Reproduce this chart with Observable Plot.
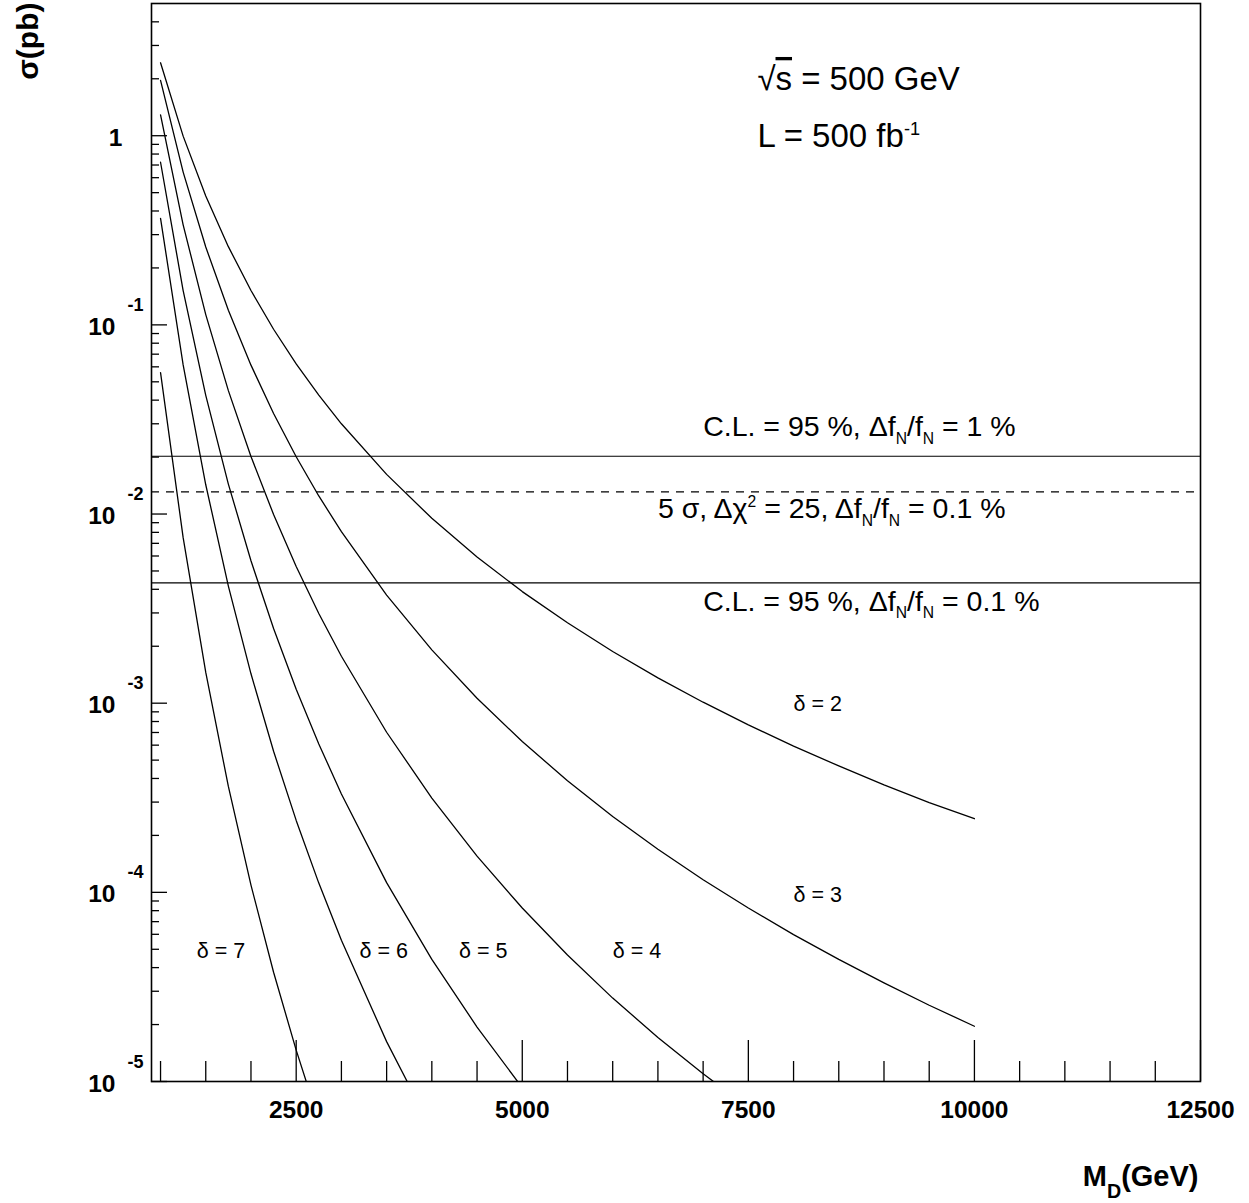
<!DOCTYPE html>
<html>
<head>
<meta charset="utf-8">
<script src="https://cdn.jsdelivr.net/npm/d3@7"></script>
<script src="https://cdn.jsdelivr.net/npm/@observablehq/plot@0.6"></script>
<style>
  html, body { margin: 0; padding: 0; background: #fff; }
  #chart svg { display: block; }
</style>
</head>
<body>
<div id="chart"></div>
<script>
// Graviton-emission cross section vs. fundamental scale M_D, one curve per number of extra dimensions δ.
const massGeV = [1000, 1250, 1500, 1750, 2000, 2250, 2500, 2750, 3000, 3500, 4000, 4500,
                 5000, 5500, 6000, 6500, 7000, 7500, 8000, 8500, 9000, 9500, 10000];

const deltas = [2, 3, 4, 5, 6, 7];

// σ (pb) for each δ, listed along massGeV (steep curves stop once below the plotted range)
const sigmaDelta2 = [2.43, 0.995, 0.480, 0.2591, 0.1519, 0.0948, 0.0622, 0.0425, 0.0300, 0.0162, 0.00949, 0.00593,
                     0.00389, 0.00266, 0.001875, 0.001361, 0.001012, 0.000768, 0.000593, 0.000466, 0.000370, 0.000298, 0.000245];
const sigmaDelta3 = [1.96, 0.642, 0.258, 0.1194, 0.06125, 0.0340, 0.02007, 0.01246, 0.00807, 0.00373, 0.001914, 0.001062,
                     0.000627, 0.000389, 0.000252, 0.000169, 0.0001166, 0.0000826, 0.0000598, 0.0000442, 0.0000332, 0.0000253, 0.0000196];
const sigmaDelta4 = [1.29, 0.338, 0.1133, 0.0449, 0.02016, 0.00994, 0.00528, 0.00298, 0.00177, 0.000702, 0.000315, 0.0001553,
                     0.0000826, 0.0000466, 0.0000276, 0.0000171, 0.0000110, 0.00000725];
const sigmaDelta5 = [0.724, 0.1518, 0.0424, 0.01440, 0.00566, 0.00248, 0.001186, 0.000609, 0.000331, 0.0001125, 0.0000442, 0.0000194,
                     0.00000927];
const sigmaDelta6 = [0.366, 0.0614, 0.01428, 0.00416, 0.00143, 0.000557, 0.000240, 0.0001119, 0.0000558, 0.00001625, 0.00000558];
const sigmaDelta7 = [0.0559, 0.00750, 0.001454, 0.000363, 0.0001092, 0.0000378, 0.00001465, 0.00000621];

// Sensitivity limits (pb)
const limitCL95Norm1 = 0.0202;
const limit5SigmaNorm01 = 0.0131;
const limitCL95Norm01 = 0.00433;

// Axis ticks
const xMajorTicks = [2500, 5000, 7500, 10000, 12500];
const xMinorTicks = [1000, 1500, 2000, 3000, 3500, 4000, 4500, 5500, 6000, 6500, 7000,
                     8000, 8500, 9000, 9500, 10500, 11000, 11500, 12000];
const yDecadeExponents = [-5, -4, -3, -2, -1, 0];
const yMinorMultipliers = [2, 3, 4, 5, 6, 7, 8, 9];

// ---- tables built from the arrays above ----
const sigmaSeries = [sigmaDelta2, sigmaDelta3, sigmaDelta4, sigmaDelta5, sigmaDelta6, sigmaDelta7];
const curves = sigmaSeries.flatMap((values, i) =>
  values.map((sigma, j) => ({delta: deltas[i], mass: massGeV[j], sigma})));

const yMajor = yDecadeExponents.map(e => Math.pow(10, e));
const yMinor = yDecadeExponents.flatMap(e => yMinorMultipliers.map(m => m * Math.pow(10, e)))
  .filter(v => v < 5);

// ---- layout ----
const W = 1249, H = 1203;
const mL = 151, mR = 49, mT = 3, mB = 122;
const frameW = W - mL - mR, frameH = H - mT - mB;
const FONT = "'Liberation Sans', Arial, Helvetica, sans-serif";

const plot = Plot.plot({
  width: W,
  height: H,
  marginLeft: mL,
  marginRight: mR,
  marginTop: mT,
  marginBottom: mB,
  style: {fontFamily: FONT, background: "white", color: "black"},
  x: {type: "linear", domain: [900, 12500], axis: null},
  y: {type: "log", domain: [1e-5, 5], axis: null},
  marks: [
    // sensitivity limits
    Plot.ruleY([limitCL95Norm1, limitCL95Norm01], {stroke: "black", strokeWidth: 1.2}),
    Plot.ruleY([limit5SigmaNorm01], {stroke: "black", strokeWidth: 1.2, strokeDasharray: "8,7"}),

    // cross-section curves
    Plot.line(curves, {x: "mass", y: "sigma", z: "delta", stroke: "black", strokeWidth: 1.3, clip: true}),

    // inward ticks along the bottom and left edges
    Plot.tickX(xMinorTicks, {x: d => d, insetTop: frameH - 20, stroke: "black", strokeWidth: 1.3}),
    Plot.tickX(xMajorTicks, {x: d => d, insetTop: frameH - 41, stroke: "black", strokeWidth: 1.3}),
    Plot.tickY(yMinor, {y: d => d, insetRight: frameW - 8, stroke: "black", strokeWidth: 1.3}),
    Plot.tickY(yMajor, {y: d => d, insetRight: frameW - 16, stroke: "black", strokeWidth: 1.3}),

    Plot.frame({stroke: "black", strokeWidth: 1.6}),

    // tick labels
    Plot.text(xMajorTicks, {x: d => d, text: d => String(d), frameAnchor: "bottom", lineAnchor: "bottom",
      dy: 36, fontSize: 24.5, fontWeight: "bold"}),
    Plot.text(yDecadeExponents.filter(e => e < 0), {y: e => Math.pow(10, e), text: () => "10", frameAnchor: "left",
      textAnchor: "end", lineAnchor: "bottom", dx: -36, dy: 10, fontSize: 24.5, fontWeight: "bold"}),
    Plot.text(yDecadeExponents.filter(e => e < 0), {y: e => Math.pow(10, e), text: e => String(e), frameAnchor: "left",
      textAnchor: "start", lineAnchor: "bottom", dx: -24, dy: -14, fontSize: 18, fontWeight: "bold"}),
    Plot.text(yDecadeExponents.filter(e => e === 0), {y: e => Math.pow(10, e), text: () => "1", frameAnchor: "left",
      textAnchor: "end", lineAnchor: "bottom", dx: -29, dy: 10, fontSize: 24.5, fontWeight: "bold"}),

    // axis titles
    Plot.text(["σ(pb)"], {frameAnchor: "top-left", rotate: -90, textAnchor: "end", lineAnchor: "bottom",
      dx: -114, dy: -1, fontSize: 30, fontWeight: "bold"}),
    Plot.text(["M_[0.42,0.68]{D}(GeV)"], {frameAnchor: "bottom-right", textAnchor: "end", lineAnchor: "bottom",
      dx: -2, dy: 104, fontSize: 29, fontWeight: "bold"}),

    // run conditions
    Plot.text(["√~{s} = 500 GeV"], {x: 7600, y: 1.745, textAnchor: "start", lineAnchor: "bottom", fontSize: 33}),
    Plot.text(["L = 500 fb^{-1}"], {x: 7600, y: 0.871, textAnchor: "start", lineAnchor: "bottom", fontSize: 33}),

    // limit labels
    Plot.text(["C.L. = 95 %, Δf_{N}/f_{N} = 1 %"], {x: 7000, y: limitCL95Norm1, dy: -20,
      textAnchor: "start", lineAnchor: "bottom", fontSize: 28.5}),
    Plot.text(["5 σ, Δχ^{2} = 25, Δf_{N}/f_{N} = 0.1 %"], {x: 6500, y: limit5SigmaNorm01, dy: 26,
      textAnchor: "start", lineAnchor: "bottom", fontSize: 28.5}),
    Plot.text(["C.L. = 95 %, Δf_{N}/f_{N} = 0.1 %"], {x: 7000, y: limitCL95Norm01, dy: 28,
      textAnchor: "start", lineAnchor: "bottom", fontSize: 28.5}),

    // curve labels
    Plot.text(deltas, {
      x: d => ({2: 8000, 3: 8000, 4: 6000, 5: 4300, 6: 3200, 7: 1400})[d],
      y: d => ({2: 9.06e-4, 3: 8.85e-5, 4: 4.5e-5, 5: 4.5e-5, 6: 4.5e-5, 7: 4.5e-5})[d],
      text: d => `δ = ${d}`, textAnchor: "start", lineAnchor: "bottom", fontSize: 21.5
    })
  ]
});

document.getElementById("chart").appendChild(plot);

// Turn _{..} (subscript), ^{..} (superscript) and ~{..} (overline) markup into tspans.
// Optional [offset,scale] after the marker overrides the shift (in em) and relative size.
const RICH = /([_^~])(?:\[([\d.]+),([\d.]+)\])?\{([^}]*)\}/g;
function applyRichText(svg) {
  svg.querySelectorAll("text").forEach(el => {
    const src = el.textContent;
    RICH.lastIndex = 0;
    if (!RICH.test(src)) return;
    RICH.lastIndex = 0;
    const fs = parseFloat(getComputedStyle(el).fontSize);
    el.textContent = "";
    let cur = 0, last = 0, m;
    const add = (txt, off, scale, deco) => {
      const t = document.createElementNS("http://www.w3.org/2000/svg", "tspan");
      t.textContent = txt;
      const dy = off - cur;
      if (dy) t.setAttribute("dy", dy);
      if (scale !== 1) t.setAttribute("font-size", fs * scale);
      if (deco) t.setAttribute("text-decoration", deco);
      cur = off;
      el.appendChild(t);
    };
    while ((m = RICH.exec(src))) {
      if (m.index > last) add(src.slice(last, m.index), 0, 1);
      const [, kind, a, b, body] = m;
      if (kind === "_") add(body, fs * (a ? +a : 0.27), b ? +b : 0.55);
      else if (kind === "^") add(body, -fs * (a ? +a : 0.38), b ? +b : 0.55);
      else add(body, 0, 1, "overline");
      last = RICH.lastIndex;
    }
    if (last < src.length) add(src.slice(last), 0, 1);
  });
}
applyRichText(plot);
</script>
</body>
</html>
